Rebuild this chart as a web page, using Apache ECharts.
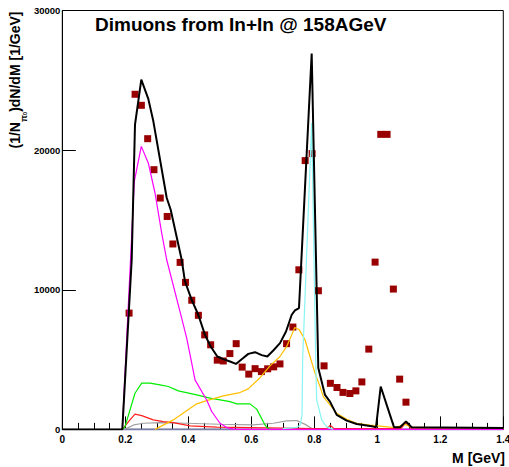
<!DOCTYPE html>
<html>
<head>
<meta charset="utf-8">
<script src="https://cdn.jsdelivr.net/npm/echarts@6/dist/echarts.min.js"></script>
<style>
html,body{margin:0;padding:0;background:#fff;}
#c{width:509px;height:467px;}
</style>
</head>
<body>
<div id="c"></div>
<script>
// ---- data ----
const titleText = "Dimuons from In+In @ 158AGeV";
const xTitle = "M [GeV]";
const yTicks = [0, 10000, 20000, 30000];
const xTicks = [0, 0.2, 0.4, 0.6, 0.8, 1.0, 1.2, 1.4];

// measured data points (dark red squares)
const dataX = [0.212,0.231,0.251,0.271,0.291,0.311,0.333,0.351,0.374,0.391,0.411,0.432,0.452,0.471,0.492,0.511,0.532,0.552,0.571,0.592,0.612,0.632,0.652,0.671,0.691,0.712,0.732,0.751,0.771,0.793,0.813,0.831,0.851,0.872,0.891,0.913,0.932,0.951,0.973,0.993,1.011,1.031,1.051,1.071,1.091];
const dataY = [8330,24000,23210,20820,18600,16570,15250,13280,11960,10530,9250,8170,6770,6060,4960,4900,5430,6140,4460,3960,4350,4140,4340,4480,4690,6140,7330,11430,19250,19750,9930,4550,3300,3000,2650,2570,2760,3400,5750,11980,21130,21130,10050,3600,1950];

// total (black)
const totalX = [0,0.1905,0.2203,0.2308,0.2508,0.273,0.2889,0.3314,0.3441,0.379,0.3895,0.4108,0.4317,0.453,0.4711,0.4921,0.5111,0.5324,0.5514,0.5695,0.5905,0.6117,0.633,0.6508,0.6698,0.6911,0.7102,0.7283,0.7387,0.7514,0.7917,0.8127,0.834,0.8498,0.8711,0.9029,0.9346,0.9873,0.9959,1.0108,1.0298,1.053,1.0721,1.0911,1.1092,1.4];
const totalY = [0,0,12150,21830,25050,23670,22080,16590,15730,12150,10590,9280,8210,6770,5940,5220,5030,4860,4690,5030,5410,5530,5320,5220,5650,6180,7010,8210,8520,8690,26920,4390,2470,1990,1040,630,390,200,160,3070,1760,160,160,560,160,100];

// magenta component
const magX = [0.1905,0.2286,0.2508,0.273,0.2943,0.3156,0.3314,0.3737,0.3949,0.41,0.4213,0.4584,0.4743,0.5006,0.5219,0.548,1.4];
const magY = [0,17760,20270,19080,16930,14060,12150,8440,6540,4860,3550,2110,1280,440,130,0,0];

// green component
const greenX = [0.1905,0.199,0.2308,0.2521,0.2784,0.3102,0.3365,0.3683,0.4267,0.4689,0.5324,0.5537,0.5959,0.6171,0.6435,0.6489,0.66];
const greenY = [0,200,2590,3310,3310,3190,3070,2760,2470,2240,1990,1830,1830,1450,320,160,0];

// yellow/orange component
const yelX = [0.2943,0.3524,0.4267,0.4584,0.5111,0.5641,0.59,0.6276,0.6594,0.6911,0.7124,0.7283,0.738,0.7524,0.7705,0.7863,0.8022,0.8181,0.8286,0.8498,0.8711,0.9029,0.9346,0.9768,1.0086,1.0403,1.06,1.088,1.11,1.4];
const yelY = [0,680,1830,2060,2400,2640,2900,3700,4550,5220,5940,6770,7300,7130,6420,5220,4030,3070,2350,1760,1160,730,440,310,240,160,150,360,140,80];

// cyan component
const cyanX = [0.70,0.745,0.755,0.761,0.763,0.7917,0.8044,0.8076,0.8235,0.839,0.86];
const cyanY = [60,150,300,1000,5000,21950,4980,2110,680,200,0];

// gray component
const grayX = [0.1905,0.206,0.2265,0.258,0.31,0.395,0.50,0.606,0.67,0.712,0.735,0.745,0.771,0.795,0.82];
const grayY = [0,90,320,440,490,440,370,320,440,610,630,630,360,30,0];

// red component
const redX = [0.1905,0.2149,0.2308,0.2521,0.2889,0.3206,0.3524,0.4054,0.4902,0.5959,0.70,0.80,0.84,0.851,0.862,1.0,1.075,1.091,1.108,1.4];
const redY = [0,680,1090,990,680,560,490,250,160,130,100,60,70,300,60,50,60,490,50,20];

// baseline component (blue-gray)
const baseX = [0.1905,1.4];
const baseY = [0,0];

function pairs(xs, ys){ return xs.map((x,i)=>[x, ys[i]]); }

const chart = echarts.init(document.getElementById('c'), null, {renderer:'svg'});
const FONT = 'Liberation Sans, Arial, Helvetica, sans-serif';

function lineSeries(name, xs, ys, color, width){
  return {
    name, type:'line', data: pairs(xs, ys), showSymbol:false, symbol:'none',
    lineStyle:{color, width, opacity:1}, itemStyle:{color}, animation:false, silent:true, clip:true
  };
}

const option = {
  animation:false,
  backgroundColor:'#ffffff',
  grid:{left:62.3, right:5.7, top:10.5, bottom:37.6, containLabel:false, outerBoundsMode:'none',
        show:true, borderColor:'#000', borderWidth:1, backgroundColor:'transparent'},
  xAxis:{
    type:'value', min:xTicks[0], max:xTicks[xTicks.length-1], interval:0.2,
    axisLine:{show:true, onZero:false, lineStyle:{color:'#000', width:1}},
    axisTick:{show:true, inside:true, length:13, lineStyle:{color:'#000', width:1}},
    minorTick:{show:true, splitNumber:4, length:6.5, lineStyle:{color:'#000', width:1}},
    splitLine:{show:false}, minorSplitLine:{show:false},
    axisLabel:{color:'#000', fontFamily:FONT, fontWeight:'bold', fontSize:10, margin:5,
      formatter:(v)=>String(Math.round(v*10)/10)}
  },
  yAxis:{
    type:'value', min:yTicks[0], max:yTicks[yTicks.length-1], interval:10000,
    axisLine:{show:true, onZero:false, lineStyle:{color:'#000', width:1}},
    axisTick:{show:true, inside:true, length:13.5, lineStyle:{color:'#000', width:1}},
    splitLine:{show:false},
    axisLabel:{color:'#000', fontFamily:FONT, fontWeight:'bold', fontSize:9.5, margin:2,
      formatter:(v)=>String(v)}
  },
  graphic:[
    {type:'text', x:95, y:24, silent:true, style:{text:titleText, fill:'#000',
      font:'bold 19px '+FONT, textAlign:'left', textVerticalAlign:'middle'}},
    {type:'text', x:505, y:458, silent:true, style:{text:xTitle, fill:'#000',
      font:'bold 14px '+FONT, textAlign:'right', textVerticalAlign:'middle'}},
    {type:'text', x:15, y:11.5, rotation:Math.PI/2, silent:true, style:{
      text:'(1/N{s|π}{t|0})dN/dM [1/GeV]', fill:'#000',
      font:'bold 14px '+FONT, textAlign:'right', textVerticalAlign:'middle', lineHeight:26,
      rich:{
        s:{fontFamily:FONT, fontWeight:'bold', fontSize:9, lineHeight:14, verticalAlign:'bottom', fill:'#000'},
        t:{fontFamily:FONT, fontWeight:'bold', fontSize:6, lineHeight:8, verticalAlign:'bottom', fill:'#000'}
      }}}
  ],
  series:[
    lineSeries('base', baseX, baseY, '#7a7ea6', 2),
    lineSeries('gray', grayX, grayY, '#a0a0a0', 1.2),
    lineSeries('red', redX, redY, '#ff2020', 1.2),
    lineSeries('green', greenX, greenY, '#00ee00', 1.2),
    lineSeries('yellow', yelX, yelY, '#ffc000', 1.2),
    lineSeries('magenta', magX, magY, '#ff00ff', 1.2),
    lineSeries('cyan', cyanX, cyanY, '#88f4f4', 1.2),
    lineSeries('total', totalX, totalY, '#000000', 2),
    {name:'data', type:'scatter', data:pairs(dataX, dataY), symbol:'rect', symbolSize:7,
     itemStyle:{color:'#990000', opacity:1}, animation:false, silent:true}
  ]
};
chart.setOption(option);
</script>
</body>
</html>
